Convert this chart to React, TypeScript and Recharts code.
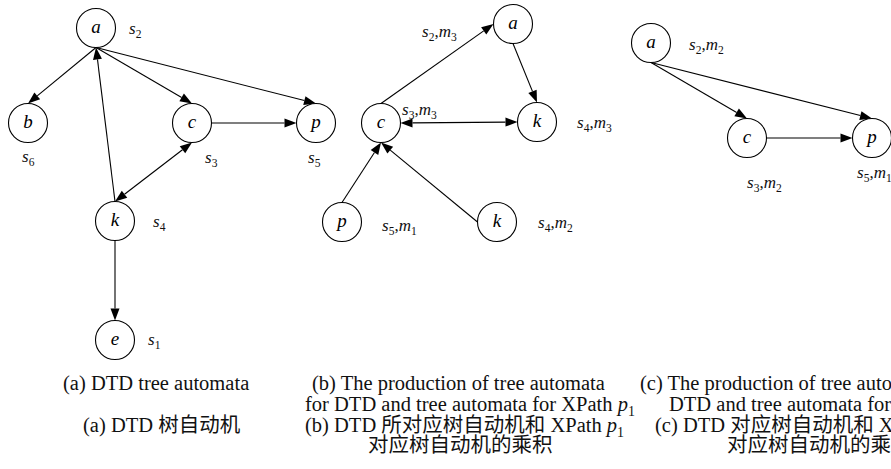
import { ScatterChart, Scatter, XAxis, YAxis, ReferenceLine } from 'recharts';

const W = 891;
const H = 469;

// nodes of the three automata: (a) DTD, (b) product with p1, (c) product with p2
const nodeLetters = ['a', 'b', 'c', 'p', 'k', 'e', 'a', 'c', 'k', 'p', 'k', 'a', 'c', 'p'];
const nodeX = [96, 28, 192, 316, 115, 115, 513, 381, 537, 342, 497, 651, 747, 872];
const nodeY = [28, 123, 123, 123, 221, 340, 24, 123, 122, 222, 222, 43, 138, 138];

// edges: from node / port -> to node / port, "both" = arrow on both ends
const edgeFrom = [0, 0, 0, 4, 2, 2, 4, 7, 6, 7, 9, 10, 11, 11, 12];
const edgeFromPort = ['B', 'B', 'B', 'T', 'B', 'R', 'B', 'T', 'B', 'R', 'T', 'L', 'B', 'B', 'R'];
const edgeTo = [1, 2, 3, 0, 4, 3, 5, 6, 8, 8, 7, 7, 12, 13, 13];
const edgeToPort = ['T', 'T', 'T', 'B', 'T', 'L', 'T', 'L', 'T', 'L', 'B', 'B', 'T', 'T', 'L'];
const edgeBoth = [false, false, false, false, true, false, false, false, false, true, false, false, false, false, false];

// state labels (* = italic toggle, _ = subscript next char)
const stateText = [
  '*s*_2', '*s*_6', '*s*_3', '*s*_5', '*s*_4', '*s*_1',
  '*s*_2,*m*_3', '*s*_3,*m*_3', '*s*_4,*m*_3', '*s*_5,*m*_1', '*s*_4,*m*_2',
  '*s*_2,*m*_2', '*s*_3,*m*_2', '*s*_5,*m*_1',
];
const stateX = [129, 22, 205, 308, 153, 148, 422, 402, 577, 382, 538, 689, 747, 857];
const stateY = [34, 162, 163, 163, 227, 345, 37, 115, 128, 231, 228, 50, 188, 178];

const captionText = [
  '(a) DTD tree automata',
  '(a) DTD 树自动机',
  '(b) The production of tree automata',
  'for DTD and tree automata for XPath *p*_1',
  '(b) DTD 所对应树自动机和 XPath *p*_1',
  '对应树自动机的乘积',
  '(c) The production of tree automata for',
  'DTD and tree automata for XPath *p*_2',
  '(c) DTD 对应树自动机和 XPath *p*_2',
  '对应树自动机的乘积',
];
const captionX = [63, 83, 312, 305, 305, 368, 640, 669, 655, 727];
const captionY = [390, 432, 390, 411, 432, 452, 390, 411, 432, 452];

const nodes = nodeLetters.map((letter, i) => ({ x: nodeX[i], y: nodeY[i], letter }));
const states = stateText.map((text, i) => ({ x: stateX[i], y: stateY[i], text }));
const captions = captionText.map((text, i) => ({ x: captionX[i], y: captionY[i], text }));

const R = 19.5;
const SERIF = "'Liberation Serif', 'Times New Roman', 'Noto Sans CJK SC', serif";
const PORT: Record<string, [number, number]> = { T: [0, -1], B: [0, 1], L: [-1, 0], R: [1, 0] };

function rich(text: string, size: number) {
  const out: any[] = [];
  let italic = false;
  let sub = false;
  let shifted = false;
  const shift = size * 0.24;
  for (let i = 0; i < text.length; i++) {
    const ch = text[i];
    if (ch === '*') { italic = !italic; continue; }
    if (ch === '_') { sub = true; continue; }
    let dy = 0;
    if (sub && !shifted) { dy = shift; shifted = true; }
    else if (!sub && shifted) { dy = -shift; shifted = false; }
    out.push(
      <tspan key={i} dy={dy || undefined} fontSize={sub ? size * 0.68 : size} fontStyle={italic ? 'italic' : 'normal'}>
        {ch}
      </tspan>,
    );
    sub = false;
  }
  return out;
}

function edgeShape(fromPort: string, toPort: string, both: boolean) {
  return (p: any) => {
    const sx = p.x1 + PORT[fromPort][0] * R;
    const sy = p.y1 + PORT[fromPort][1] * R;
    const ex = p.x2 + PORT[toPort][0] * R;
    const ey = p.y2 + PORT[toPort][1] * R;
    const len = Math.hypot(ex - sx, ey - sy) || 1;
    const ux = (ex - sx) / len;
    const uy = (ey - sy) / len;
    const AL = 12;
    const AW = 4.5;
    const head = (tx: number, ty: number, dx: number, dy: number) => {
      const bx = tx - dx * AL;
      const by = ty - dy * AL;
      return `${tx},${ty} ${bx - dy * AW},${by + dx * AW} ${bx + dy * AW},${by - dx * AW}`;
    };
    return (
      <g>
        <line
          x1={both ? sx + ux * AL : sx}
          y1={both ? sy + uy * AL : sy}
          x2={ex - ux * AL}
          y2={ey - uy * AL}
          stroke="#000"
          strokeWidth={1.1}
        />
        <polygon points={head(ex, ey, ux, uy)} fill="#000" />
        {both && <polygon points={head(sx, sy, -ux, -uy)} fill="#000" />}
      </g>
    );
  };
}

const nodeShape = (p: any) => (
  <g>
    <circle cx={p.cx} cy={p.cy} r={R} fill="#fff" stroke="#000" strokeWidth={1.1} />
    <text x={p.cx} y={p.cy + 5} textAnchor="middle" fontFamily={SERIF} fontSize={19} fontStyle="italic" fill="#000">
      {p.payload.letter}
    </text>
  </g>
);

const stateShape = (p: any) => (
  <text x={p.cx} y={p.cy} fontFamily={SERIF} fill="#111">
    {rich(p.payload.text, 17)}
  </text>
);

const captionShape = (p: any) => (
  <text x={p.cx} y={p.cy} fontFamily={SERIF} fill="#111">
    {rich(p.payload.text, 20.5)}
  </text>
);

export default function App() {
  return (
    <div style={{ position: 'absolute', left: 0, top: 0, width: W, height: H, background: '#fff' }}>
      <ScatterChart width={W} height={H} margin={{ top: 0, right: 0, bottom: 0, left: 0 }}>
        <XAxis type="number" dataKey="x" domain={[0, W]} hide />
        <YAxis type="number" dataKey="y" domain={[0, H]} reversed hide />
        {edgeFrom.map((f, i) => (
          <ReferenceLine
            key={`e${i}`}
            segment={[
              { x: nodeX[f], y: nodeY[f] },
              { x: nodeX[edgeTo[i]], y: nodeY[edgeTo[i]] },
            ]}
            ifOverflow="visible"
            shape={edgeShape(edgeFromPort[i], edgeToPort[i], edgeBoth[i])}
          />
        ))}
        <Scatter data={nodes} shape={nodeShape} isAnimationActive={false} />
        <Scatter data={states} shape={stateShape} isAnimationActive={false} />
        <Scatter data={captions} shape={captionShape} isAnimationActive={false} />
      </ScatterChart>
    </div>
  );
}
